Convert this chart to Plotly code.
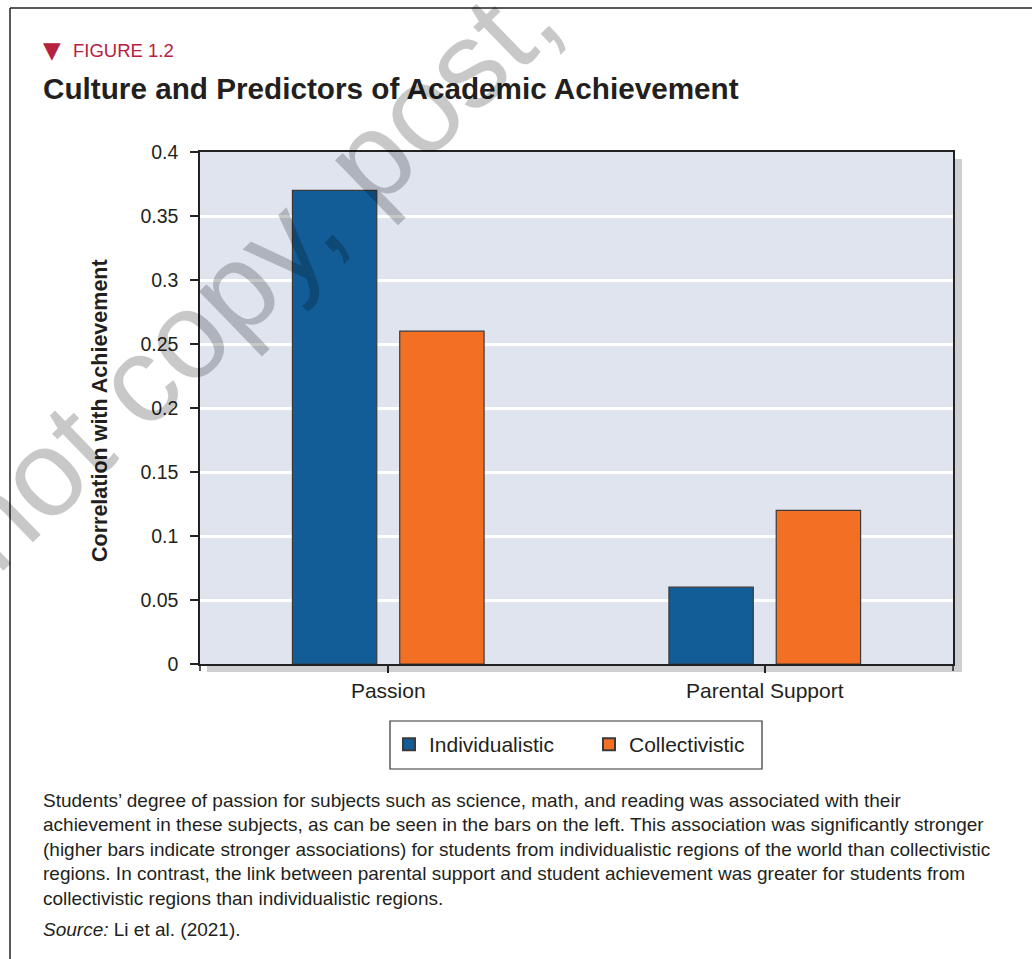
import plotly.graph_objects as go

# ---------------- data ----------------
categories = ["Passion", "Parental Support"]
individualistic = [0.37, 0.06]
collectivistic = [0.26, 0.12]
y_ticks = [0, 0.05, 0.1, 0.15, 0.2, 0.25, 0.3, 0.35, 0.4]
y_tick_labels = ["0", "0.05", "0.1", "0.15", "0.2", "0.25", "0.3", "0.35", "0.4"]

figure_label = "FIGURE 1.2"
title_text = "Culture and Predictors of Academic Achievement"
y_title = "Correlation with Achievement"
caption_lines = [
    "Students’ degree of passion for subjects such as science, math, and reading was associated with their",
    "achievement in these subjects, as can be seen in the bars on the left. This association was significantly stronger",
    "(higher bars indicate stronger associations) for students from individualistic regions of the world than collectivistic",
    "regions. In contrast, the link between parental support and student achievement was greater for students from",
    "collectivistic regions than individualistic regions.",
]
source_text = "<i>Source:</i> Li et al. (2021)."
watermark = "Do not copy, post, or distribute"

# ---------------- layout geometry (pixels) ----------------
W, H = 1032, 959
PL, PR, PT, PB = 200, 953, 152, 664


def px(x):
    return (x - PL) / (PR - PL)


def py(y):
    return (PB - y) / (PB - PT)


FONT = "Liberation Sans, Arial, Helvetica, sans-serif"
BLUE = "#125D97"
ORANGE = "#F26F24"
OUTLINE = "#3A3A3A"
CRIMSON = "#B8203F"
TEXT = "#231F20"

fig = go.Figure()
fig.add_trace(go.Bar(name="Individualistic", x=categories, y=individualistic,
                     marker=dict(color=BLUE, line=dict(color=OUTLINE, width=1.2))))
fig.add_trace(go.Bar(name="Collectivistic", x=categories, y=collectivistic,
                     marker=dict(color=ORANGE, line=dict(color=OUTLINE, width=1.2))))

shapes = []
# drop shadow behind the plot area
shapes.append(dict(type="rect", xref="paper", yref="paper", layer="below",
                   x0=px(207), x1=px(962), y0=py(672), y1=py(159),
                   fillcolor="#CFCFD2", line=dict(width=0)))
shapes.append(dict(type="rect", xref="paper", yref="paper", layer="below",
                   x0=0, x1=1, y0=0, y1=1,
                   fillcolor="#E0E4EF", line=dict(width=0)))
# end tick marks on x axis
for xe in (PL, PR):
    shapes.append(dict(type="line", xref="paper", yref="paper",
                       x0=px(xe), x1=px(xe), y0=py(PB), y1=py(PB + 7),
                       line=dict(color="#222222", width=1.5)))
# legend frame
shapes.append(dict(type="rect", xref="paper", yref="paper",
                   x0=px(390), x1=px(762), y0=py(769), y1=py(721),
                   fillcolor="white", line=dict(color="#333333", width=1.2), layer="below"))
# outer frame
shapes.append(dict(type="line", xref="paper", yref="paper",
                   x0=px(10), x1=px(W + 5), y0=py(8), y1=py(8),
                   line=dict(color="#222222", width=1.5)))
shapes.append(dict(type="line", xref="paper", yref="paper",
                   x0=px(10), x1=px(10), y0=py(8), y1=py(H + 5),
                   line=dict(color="#222222", width=1.5)))

annotations = []
annotations.append(dict(text="▼", xref="paper", yref="paper",
                        x=px(52), y=py(50), xanchor="center", yanchor="middle",
                        showarrow=False, font=dict(family="DejaVu Sans", size=23, color=CRIMSON)))
annotations.append(dict(text=figure_label, xref="paper", yref="paper",
                        x=px(71), y=py(50), xanchor="left", yanchor="middle",
                        showarrow=False, font=dict(family=FONT, size=18.5, color=CRIMSON)))
annotations.append(dict(text="<b>" + title_text + "</b>", xref="paper", yref="paper",
                        x=px(41), y=py(88), xanchor="left", yanchor="middle",
                        showarrow=False, font=dict(family=FONT, size=29.7, color=TEXT)))
annotations.append(dict(text="<b>" + y_title + "</b>", xref="paper", yref="paper",
                        x=px(100), y=py(411), xanchor="center", yanchor="middle",
                        textangle=-90, showarrow=False,
                        font=dict(family=FONT, size=21.5, color=TEXT)))
line_y = [800, 824.5, 849, 873.5, 898]
for ly, txt in zip(line_y, caption_lines):
    annotations.append(dict(text=txt, xref="paper", yref="paper",
                            x=px(41), y=py(ly), xanchor="left", yanchor="middle",
                            showarrow=False, font=dict(family=FONT, size=19, color=TEXT)))
annotations.append(dict(text=source_text, xref="paper", yref="paper",
                        x=px(41), y=py(929), xanchor="left", yanchor="middle",
                        showarrow=False, font=dict(family=FONT, size=19, color=TEXT)))
# watermark
annotations.append(dict(text=watermark, xref="paper", yref="paper",
                        x=px(426), y=py(103), xanchor="center", yanchor="middle",
                        textangle=-44, showarrow=False,
                        font=dict(family=FONT, size=123, color="rgba(0,0,0,0.215)")))

fig.update_layout(
    width=W, height=H,
    margin=dict(l=PL, r=W - PR, t=PT, b=H - PB, autoexpand=False),
    paper_bgcolor="white",
    plot_bgcolor="rgba(0,0,0,0)",
    barmode="group",
    bargap=0.43,
    bargroupgap=0.214,
    font=dict(family=FONT, color=TEXT),
    showlegend=True,
    legend=dict(orientation="h", x=px(389), xanchor="left", y=py(724), yanchor="top",
                bgcolor="rgba(0,0,0,0)", borderwidth=0,
                font=dict(family=FONT, size=21, color=TEXT),
                itemsizing="constant", entrywidth=155, entrywidthmode="pixels"),
    shapes=shapes,
    annotations=annotations,
    xaxis=dict(showline=True, linecolor="#222222", linewidth=1.5, mirror=True,
               ticks="outside", ticklen=7, tickcolor="#222222", tickwidth=1.5,
               showgrid=False, tickfont=dict(family=FONT, size=21, color=TEXT)),
    yaxis=dict(range=[0, 0.4], tickvals=y_ticks, ticktext=y_tick_labels,
               showline=True, linecolor="#222222", linewidth=1.5, mirror=True,
               ticks="outside", ticklen=8, tickcolor="#222222", tickwidth=1.5,
               ticklabelstandoff=8,
               showgrid=True, gridcolor="white", gridwidth=2.5, zeroline=False,
               tickfont=dict(family=FONT, size=19.5, color=TEXT)),
)

fig.write_html("out.html")
